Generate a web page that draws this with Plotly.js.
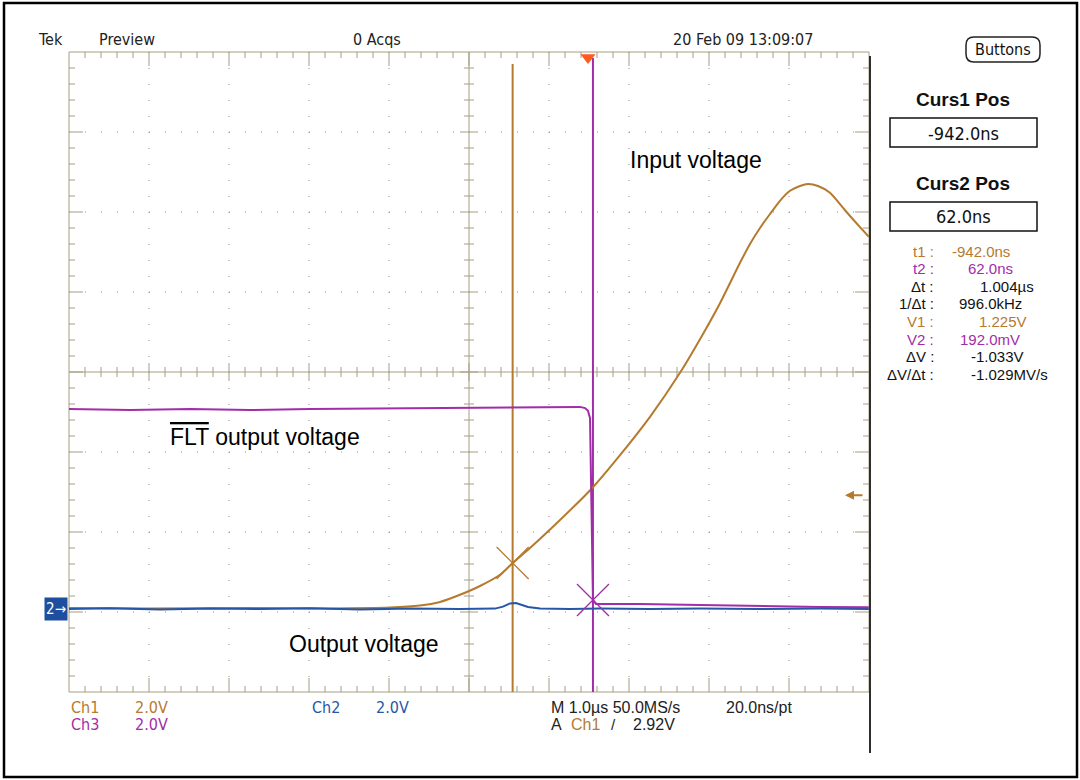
<!DOCTYPE html>
<html>
<head>
<meta charset="utf-8">
<script src="https://cdn.plot.ly/plotly-3.0.1.min.js"></script>
<style>html,body{margin:0;padding:0;background:#fff;}#chart{width:1080px;height:780px;}</style>
</head>
<body>
<div id="chart"></div>
<script>
// ---------------- data (time in µs, voltage in V) ----------------
const ch1Time = [-6.49,-5.475,-4.225,-3.225,-2.475,-2.10,-1.85,-1.60,-1.35,-1.10,-0.942,-0.725,-0.35,0.0625,0.40,0.775,1.15,1.40,1.65,1.90,2.025,2.15,2.275,2.40,2.525,2.65,2.75,2.875,3.025,3.21,3.40,3.51];
const ch1Volt = [0.10,0.09,0.10,0.09,0.11,0.16,0.25,0.43,0.65,0.93,1.225,1.60,2.30,3.12,3.92,4.88,5.98,6.82,7.72,8.73,9.20,9.60,9.95,10.28,10.53,10.65,10.70,10.65,10.48,10.05,9.62,9.38];

const ch2Time = [-6.49,-5.975,-5.35,-4.725,-4.10,-3.475,-2.85,-2.225,-1.60,-1.1625,-1.0625,-0.975,-0.90,-0.825,-0.75,-0.60,-0.225,0.15,0.775,1.40,2.15,2.90,3.51];
const ch2Volt = [0,0.02,-0.01,0.01,0,0.02,-0.01,0.01,0,0.01,0.06,0.14,0.15,0.10,0.05,0.01,0,0.01,0,0.01,0,0.01,0];

const ch3Time = [-6.49,-5.725,-4.975,-4.225,-3.475,-2.725,-1.975,-1.225,-0.60,-0.10,-0.0375,0.0,0.025,0.0375,0.05,0.0625,0.10,0.65,1.40,2.15,2.90,3.51];
const ch3Volt = [4.97,4.94,4.97,4.94,4.97,4.98,4.99,4.99,5.01,5.02,4.99,4.92,4.74,3.44,1.19,0.19,0.09,0.09,0.07,0.04,0.02,0.01];

const cursorTimes = [-0.942, 0.062];     // Curs1, Curs2 (µs)
const cursorVolts = [1.225, 0.192];      // V1 on Ch1, V2 on Ch3
const triggerTime = 0;
const triggerLevel = 2.92;               // V on Ch1

const headerTexts = ['Tek','Preview','0 Acqs','20 Feb 09 13:09:07'];
const cursPosLabels = ['Curs1 Pos','Curs2 Pos'];
const cursPosValues = ['-942.0ns','62.0ns'];
const readoutLabels = ['t1 :','t2 :','\u0394t :','1/\u0394t :','V1 :','V2 :','\u0394V :','\u0394V/\u0394t :'];
const readoutValues = ['-942.0ns','62.0ns','1.004\u00b5s','996.0kHz','1.225V','192.0mV','-1.033V','-1.029MV/s'];
const channelLabels = ['Ch1','Ch3','Ch2'];
const channelScales = ['2.0V','2.0V','2.0V'];
const timebaseTexts = ['M 1.0\u00b5s 50.0MS/s','20.0ns/pt'];
const traceLabels = ['Input voltage','FLT output voltage','Output voltage'];

// ---------------- layout geometry ----------------
const L=69, R=869, T=52, B=692, W=R-L, H=B-T;
const xp = px => (px-L)/W;
const yp = py => (B-py)/H;
const trigFrac = (588-L)/W;              // horizontal position of trigger on screen
const xRange = [-10*trigFrac, 10*(1-trigFrac)];
const voltsPerDiv = 2;
const chRange = g => [(-4-g)*voltsPerDiv, (4-g)*voltsPerDiv];
const gnd1 = -3.0, gnd2 = -2.9625, gnd3 = -2.946;

const C1 = '#b57a2e', C2 = '#2457a8', C3 = '#a12ea8';
const GRAT = '#a59d82';
const NARROW = '"Liberation Sans Narrow","DejaVu Sans Condensed","Arial Narrow",sans-serif';
const SANS = '"Liberation Sans",Arial,sans-serif';

// ---------------- graticule shapes ----------------
const shapes = [];
const seg = (x0,y0,x1,y1,color,width,dash) => shapes.push({type:'line',xref:'paper',yref:'paper',x0,y0,x1,y1,layer:'below',line:{color,width,dash:dash||'solid'}});
for (let k=1;k<10;k++) if (k!==5) seg(k/10,1,k/10,0,'#8d8d8d',1,'1px,15px');
for (let k=1;k<8;k++) if (k!==4) seg(0,k/8,1,k/8,'#8d8d8d',1,'1px,15px');
shapes.push({type:'rect',xref:'paper',yref:'paper',x0:0,y0:0,x1:1,y1:1,layer:'below',line:{color:GRAT,width:1}});
seg(0,0.5,1,0.5,GRAT,1); seg(0.5,0,0.5,1,GRAT,1);
for (let i=1;i<50;i++){
  const x=i/50, maj=i%5===0, len=(maj?14:6)/H, c=(maj?9:5)/H;
  seg(x,1,x,1-len,GRAT,1); seg(x,0,x,len,GRAT,1); seg(x,0.5-c,x,0.5+c,GRAT,1);
}
for (let j=1;j<40;j++){
  const y=j/40, maj=j%5===0, len=(maj?14:6)/W, c=(maj?9:5)/W;
  seg(0,y,len,y,GRAT,1); seg(1,y,1-len,y,GRAT,1); seg(0.5-c,y,0.5+c,y,GRAT,1);
}
seg(xp(870),yp(56),xp(870),yp(753),'#2e2e2e',2);
shapes.push({type:'rect',xref:'paper',yref:'paper',x0:xp(4),x1:xp(1077),y0:yp(3),y1:yp(777),line:{color:'#000',width:2.5}});
cursorTimes.forEach((t,i)=>shapes.push({type:'line',xref:'x',yref:'paper',x0:t,x1:t,y0:yp(i?58:64),y1:0,layer:'below',line:{color:i?C3:C1,width:2}}));
[[118,147],[202,231]].forEach(([a,b])=>shapes.push({type:'rect',xref:'paper',yref:'paper',x0:xp(890),x1:xp(1037),y0:yp(b),y1:yp(a),line:{color:'#111',width:1.5}}));
(function(){
  const x0=966,x1=1040,y0=37,y1=62,r=8;
  const P=(x,y)=>xp(x).toFixed(5)+','+yp(y).toFixed(5);
  const path='M'+P(x0+r,y0)+' L'+P(x1-r,y0)+' Q'+P(x1,y0)+' '+P(x1,y0+r)+' L'+P(x1,y1-r)+' Q'+P(x1,y1)+' '+P(x1-r,y1)+
    ' L'+P(x0+r,y1)+' Q'+P(x0,y1)+' '+P(x0,y1-r)+' L'+P(x0,y0+r)+' Q'+P(x0,y0)+' '+P(x0+r,y0)+' Z';
  shapes.push({type:'path',xref:'paper',yref:'paper',path,line:{color:'#222',width:1.5}});
})();

// ---------------- annotations ----------------
const ann = [];
const txt = (text,px,py,opt) => ann.push(Object.assign({text,xref:'paper',yref:'paper',x:xp(px),y:yp(py),showarrow:false,xanchor:'left',yanchor:'middle',
  font:{family:NARROW,size:16,color:'#222'}},opt||{}));
[[36],[97],[351],[671]].forEach(([x],i)=>txt(headerTexts[i],x,40));
txt('Buttons',1003,50,{xanchor:'center',font:{family:NARROW,size:16,color:'#111'}});
cursPosLabels.forEach((s,i)=>txt('<b>'+s+'</b>',963,[99,183][i],{xanchor:'center',font:{family:SANS,size:19,color:'#111'}}));
cursPosValues.forEach((s,i)=>txt(s,964,[133,216][i],{xanchor:'center',font:{family:NARROW,size:18,color:'#111'}}));
const rdCol=[C1,C3,'#111','#111',C1,C3,'#111','#111'];
const rdX=[950,966,978,957,977,958,969,969];
readoutLabels.forEach((s,i)=>{
  const y=251+i*17.6;
  txt(s,936,y,{xanchor:'right',font:{family:SANS,size:15,color:rdCol[i]}});
  txt(readoutValues[i],rdX[i],y,{font:{family:SANS,size:15,color:rdCol[i]}});
});
const chCol=[C1,C3,C2];
[[69,707],[69,724],[310,707]].forEach(([x,y],i)=>{
  txt(channelLabels[i],x,y,{font:{family:NARROW,size:16,color:chCol[i]}});
  txt(channelScales[i],x+64,y,{font:{family:NARROW,size:16,color:chCol[i]}});
});
txt(timebaseTexts[0],549,707,{font:{family:SANS,size:16,color:'#222'}});
txt(timebaseTexts[1],724,707,{font:{family:SANS,size:16,color:'#222'}});
txt('A',549,724,{font:{family:SANS,size:16,color:'#222'}});
txt('Ch1',569,724,{font:{family:SANS,size:16,color:C1}});
txt('/',609,724,{font:{family:SANS,size:15,color:'#222'}});
txt(triggerLevel.toFixed(2)+'V',631,724,{font:{family:SANS,size:16,color:'#222'}});
txt(traceLabels[0],628,160,{font:{family:SANS,size:23,color:'#000'}});
txt('<span style="text-decoration:overline">FLT</span>'+traceLabels[1].slice(3),168,437,{font:{family:SANS,size:23,color:'#000'}});
txt(traceLabels[2],287,644,{font:{family:SANS,size:23,color:'#000'}});
ann.push({text:'2\u2192',xref:'paper',yref:'y3',x:xp(44),y:0,xanchor:'left',yanchor:'middle',showarrow:false,
  bgcolor:'#1d4f9e',width:20,height:20,borderpad:1,font:{family:NARROW,size:15,color:'#fff'}});
ann.push({text:'',xref:'paper',yref:'y2',x:xp(845),y:triggerLevel,showarrow:true,ax:19,ay:0,arrowhead:2,arrowsize:0.9,arrowwidth:2,arrowcolor:C1,standoff:0});

// ---------------- traces ----------------
const traces = [
  {x:ch1Time,y:ch1Volt,yaxis:'y2',mode:'lines',line:{color:C1,width:2,shape:'spline',smoothing:0.6},hoverinfo:'skip'},
  {x:ch3Time,y:ch3Volt,yaxis:'y4',mode:'lines',line:{color:C3,width:2},hoverinfo:'skip'},
  {x:ch2Time,y:ch2Volt,yaxis:'y3',mode:'lines',line:{color:C2,width:2},hoverinfo:'skip'},
  {x:[cursorTimes[0]],y:[cursorVolts[0]],yaxis:'y2',mode:'markers',marker:{symbol:'x-thin',size:32,line:{color:C1,width:1.3}},hoverinfo:'skip'},
  {x:[cursorTimes[1]],y:[cursorVolts[1]],yaxis:'y4',mode:'markers',marker:{symbol:'x-thin',size:32,line:{color:C3,width:1.3}},hoverinfo:'skip'},
  {x:[triggerTime],y:[3.93],yaxis:'y',mode:'markers',cliponaxis:false,marker:{symbol:'triangle-down',size:13,color:'#ff5a1f'},hoverinfo:'skip'}
];

const hid = {visible:false,fixedrange:true};
const layout = {
  width:1080,height:780,
  margin:{l:L,r:1080-R,t:T,b:780-B,pad:0},
  paper_bgcolor:'#fff',plot_bgcolor:'#fff',
  showlegend:false,
  xaxis:Object.assign({range:xRange},hid),
  yaxis:Object.assign({range:[-4,4]},hid),
  yaxis2:Object.assign({range:chRange(gnd1),overlaying:'y'},hid),
  yaxis3:Object.assign({range:chRange(gnd2),overlaying:'y'},hid),
  yaxis4:Object.assign({range:chRange(gnd3),overlaying:'y'},hid),
  shapes, annotations:ann
};
Plotly.newPlot('chart',traces,layout,{staticPlot:true,displayModeBar:false});
</script>
</body>
</html>
